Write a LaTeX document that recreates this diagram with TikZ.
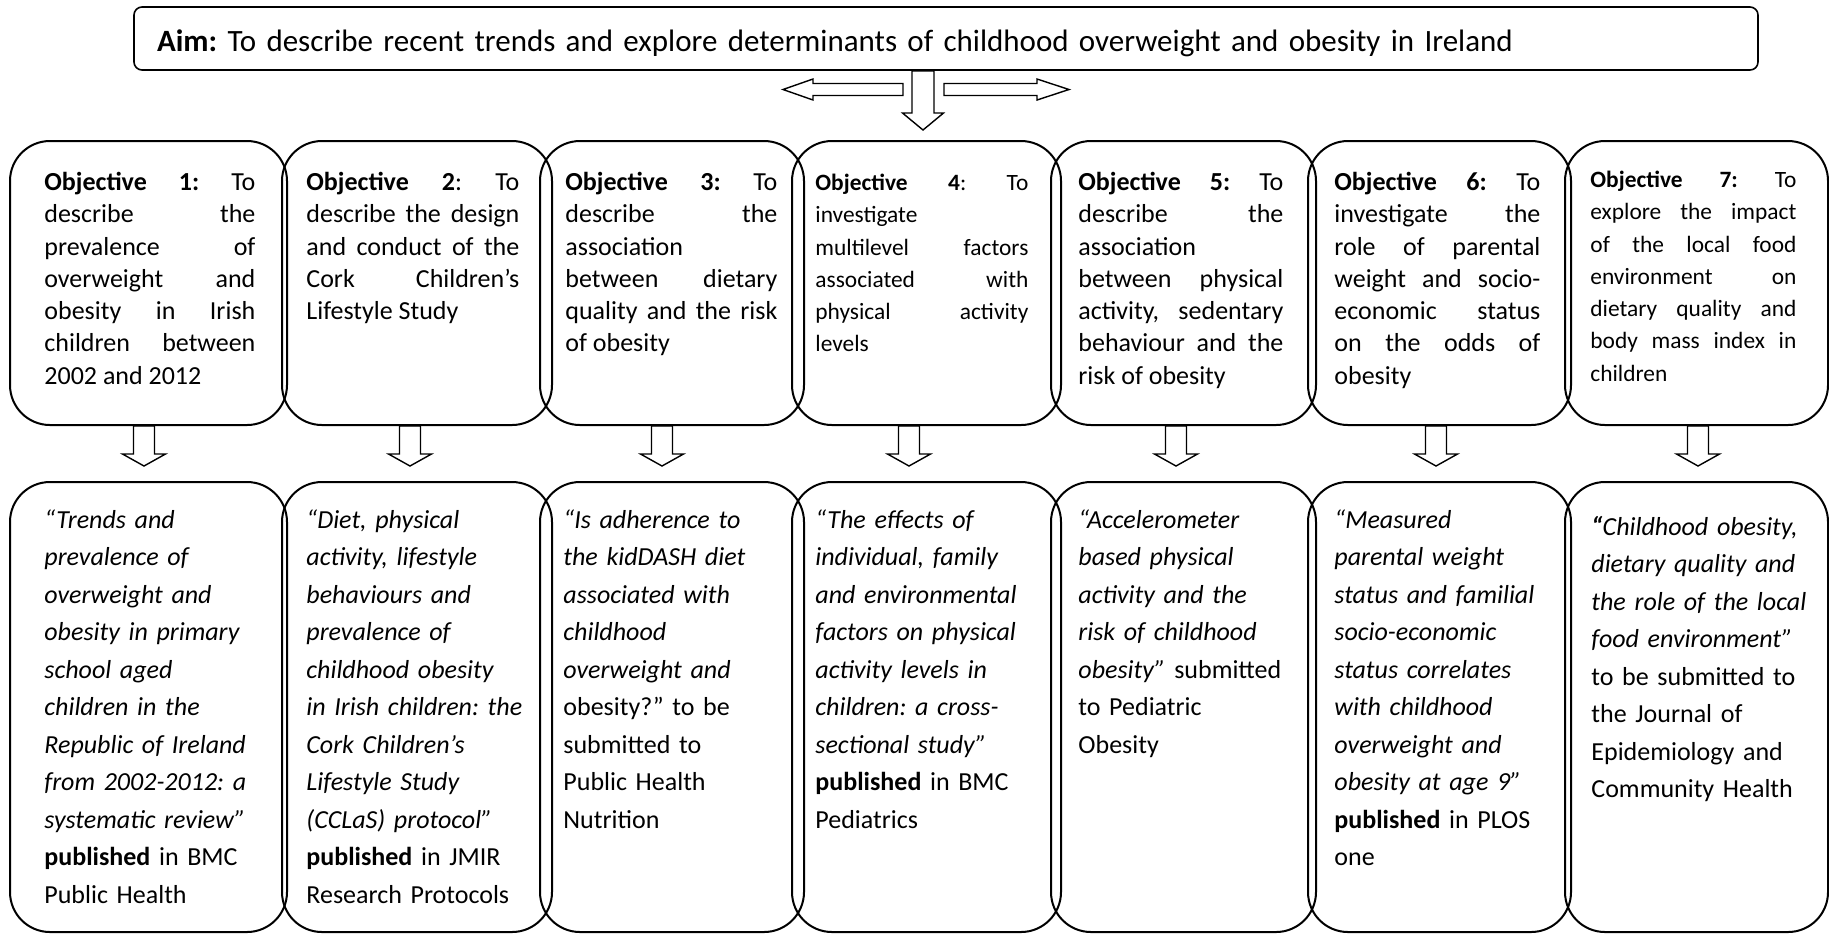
\documentclass[tikz,border=0pt]{standalone}
\usepackage{fontspec}
\setmainfont{Carlito}
\usetikzlibrary{calc,positioning}
\setlength{\parindent}{0pt}
\tolerance=10000 \hbadness=10000 \hyphenpenalty=10000
\frenchspacing

\newcommand{\aimfont}{\fontsize{15.5}{18.6}\selectfont}
\newcommand{\objfont}{\fontsize{13}{16.15}\selectfont}
\newcommand{\objsmallfont}{\fontsize{11.7}{16.15}\selectfont}
\newcommand{\pubfont}{\fontsize{13}{18.75}\selectfont}

\begin{document}
\begin{tikzpicture}[x={(0.5pt,0)}, y={(0,-0.5pt)}]
  \tikzset{aimbox/.style={draw, line width=.8pt, rounded corners=4pt,
      minimum height=31.5pt, text width=789pt, inner xsep=11.5pt,
      text height=13pt, text depth=.5pt, align=left, font=\aimfont},
    objbox/.style={draw, line width=1pt, rounded corners=20pt, minimum height=142pt},
    pubbox/.style={draw, line width=1pt, rounded corners=20pt, minimum height=225pt},
    objtext/.style={anchor=north west, inner sep=0pt, align=justify, font=\objfont},
    pubtext/.style={anchor=north west, inner sep=0pt, font=\pubfont,
      align=left, text width=125pt},
    darrow/.style n args={3}{draw, line width=.7pt, to path={
        let \p1=(\tikztostart), \p2=(\tikztotarget), \p3=($(\p2)!#3!(\p1)$) in
        (\x1-#1,\y1) -- (\x1-#1,\y3) -- (\x1-#2,\y3) -- (\x2,\y2)
        -- (\x1+#2,\y3) -- (\x1+#1,\y3) -- (\x1+#1,\y1) -- cycle}},
    harrow/.style n args={3}{draw, line width=.7pt, to path={
        let \p1=(\tikztostart), \p2=(\tikztotarget), \p3=($(\p2)!#3!(\p1)$) in
        (\x1,\y1+#1) -- (\x3,\y1+#1) -- (\x3,\y1+#2) -- (\x2,\y2)
        -- (\x3,\y1-#2) -- (\x3,\y1-#1) -- (\x1,\y1-#1) -- cycle}}
  }
  \useasboundingbox (0,0) rectangle (1829,934);

  % aim and the three arrows under it
  \node [aimbox] (aim) at (946,38.5) {\textbf{Aim:} To describe recent trends and explore determinants of childhood overweight and obesity in Ireland};
  \coordinate (ls) at (903,89.5);
  \coordinate (lt) at (783,89.5);
  \coordinate (rs) at (944,89.5);
  \coordinate (rt) at (1069,89.5);
  \coordinate (am) at (923,130);
  \draw [harrow={3pt}{5.25pt}{15pt}] (ls) to (lt);
  \draw [harrow={3pt}{5.25pt}{16pt}] (rs) to (rt);
  \draw [darrow={5.5pt}{10.25pt}{8.5pt}] (aim.south -| am) to (am);

  % objectives
  \node [objbox, minimum width=138.5pt] (obj1) at (148.5,283) {};
  \node [objbox, minimum width=135pt] (obj2) at (417,283) {};
  \node [objbox, minimum width=132pt] (obj3) at (672,283) {};
  \node [objbox, minimum width=134.5pt] (obj4) at (926.5,283) {};
  \node [objbox, minimum width=132.5pt] (obj5) at (1183.5,283) {};
  \node [objbox, minimum width=131.5pt] (obj6) at (1439.5,283) {};
  \node [objbox, minimum width=131.5pt] (obj7) at (1696.5,283) {};

  \node [objtext, text width=105.5pt] (objt1) at (44,167.4) {\strut\textbf{Objective 1:} To\linebreak describe the\linebreak prevalence of\linebreak overweight and\linebreak obesity in Irish\linebreak children between\linebreak 2002 and 2012};
  \node [objtext, text width=106.5pt] (objt2) at (306,167.4) {\strut\textbf{Objective 2}: To\linebreak describe the design\linebreak and conduct of the\linebreak Cork Children’s\linebreak Lifestyle Study};
  \node [objtext, text width=106pt] (objt3) at (565,167.4) {\strut\textbf{Objective 3:} To\linebreak describe the\linebreak association\linebreak between dietary\linebreak quality and the risk\linebreak of obesity};
  \node [objtext, text width=106.5pt, font=\objsmallfont] (objt4) at (815,167.4) {\strut\textbf{Objective 4}: To\linebreak investigate\linebreak multilevel factors\linebreak associated with\linebreak physical activity\linebreak levels};
  \node [objtext, text width=102.5pt] (objt5) at (1078,167.4) {\strut\textbf{Objective 5:} To\linebreak describe the\linebreak association\linebreak between physical\linebreak activity, sedentary\linebreak behaviour and the\linebreak risk of obesity};
  \node [objtext, text width=103pt] (objt6) at (1334,167.4) {\strut\textbf{Objective 6:} To\linebreak investigate the\linebreak role of parental\linebreak weight and socio-\linebreak economic status\linebreak on the odds of\linebreak obesity};
  \node [objtext, text width=103pt, font=\objsmallfont] (objt7) at (1590,164.4) {\strut\textbf{Objective 7:} To\linebreak explore the impact\linebreak of the local food\linebreak environment on\linebreak dietary quality and\linebreak body mass index in\linebreak children};

  % papers
  \node [pubbox, minimum width=138.5pt] (pub1) at (148.5,707) {};
  \node [pubbox, minimum width=135pt] (pub2) at (417,707) {};
  \node [pubbox, minimum width=132pt] (pub3) at (672,707) {};
  \node [pubbox, minimum width=134.5pt] (pub4) at (926.5,707) {};
  \node [pubbox, minimum width=132.5pt] (pub5) at (1183.5,707) {};
  \node [pubbox, minimum width=131.5pt] (pub6) at (1439.5,707) {};
  \node [pubbox, minimum width=131.5pt] (pub7) at (1696.5,707) {};

  \node [pubtext] (pubt1) at (44,501.75) {\strut{\itshape “Trends and\\ prevalence of\\ overweight and\\ obesity in primary\\ school aged\\ children in the\\ Republic of Ireland\\ from 2002-2012: a\\ systematic review”}\\ \textbf{published} in BMC\\ Public Health};
  \node [pubtext] (pubt2) at (306,501.75) {\strut{\itshape “Diet, physical\\ activity, lifestyle\\ behaviours and\\ prevalence of\\ childhood obesity\\ in Irish children: the\\ Cork Children’s\\ Lifestyle Study\\ (CCLaS) protocol”}\\ \textbf{published} in JMIR\\ Research Protocols};
  \node [pubtext] (pubt3) at (563,501.75) {\strut{\itshape “Is adherence to\\ the kidDASH diet\\ associated with\\ childhood\\ overweight and}\\ obesity?” to be\\ submitted to\\ Public Health\\ Nutrition};
  \node [pubtext] (pubt4) at (815,501.75) {\strut{\itshape “The effects of\\ individual, family\\ and environmental\\ factors on physical\\ activity levels in\\ children: a cross-\\ sectional study”}\\ \textbf{published} in BMC\\ Pediatrics};
  \node [pubtext] (pubt5) at (1078,501.75) {\strut{\itshape “Accelerometer\\ based physical\\ activity and the\\ risk of childhood\\ obesity”} submitted\\ to Pediatric\\ Obesity};
  \node [pubtext] (pubt6) at (1334,501.75) {\strut{\itshape “Measured\\ parental weight\\ status and familial\\ socio-economic\\ status correlates\\ with childhood\\ overweight and\\ obesity at age 9”}\\ \textbf{published} in PLOS\\ one};
  \node [pubtext] (pubt7) at (1591,508.75) {\strut{\itshape\textbf{“}Childhood obesity,\\ dietary quality and\\ the role of the local\\ food environment”}\\ to be submitted to\\ the Journal of\\ Epidemiology and\\ Community Health};

  % arrows from objectives to papers
  \foreach \i/\ax in {1/144,2/410,3/662,4/909,5/1176,6/1436,7/1698}{
    \coordinate (a\i) at (\ax,0);
    \draw [darrow={5.25pt}{10.75pt}{6pt}] (obj\i.south -| a\i) to ($(pub\i.north -| a\i)+(0,-15)$);
  }
\end{tikzpicture}
\end{document}
